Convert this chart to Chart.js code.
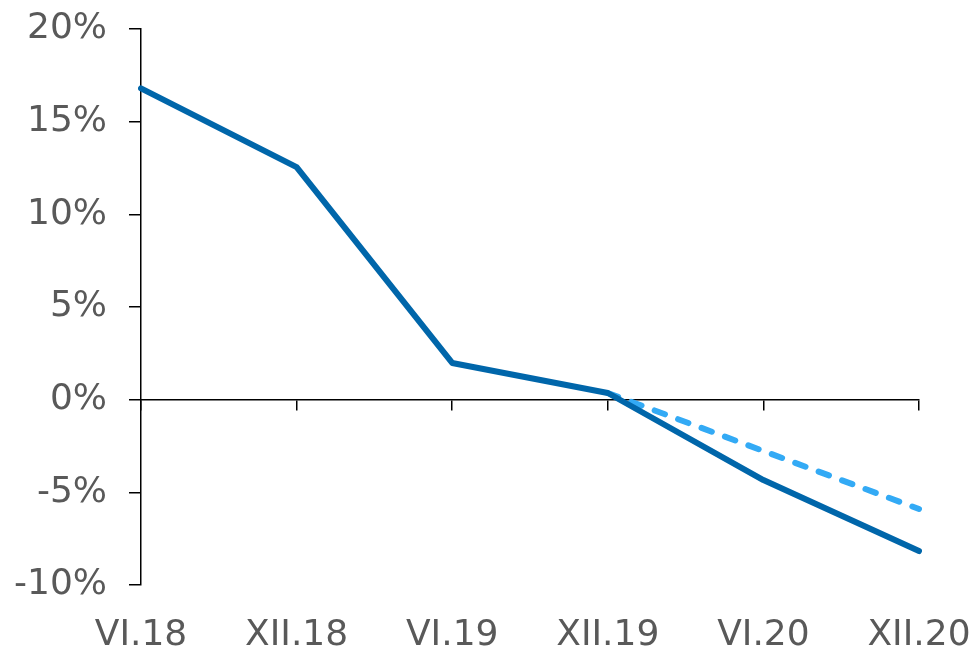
<!DOCTYPE html>
<html>
<head>
<meta charset="utf-8">
<script src="https://cdn.jsdelivr.net/npm/chart.js@4/dist/chart.umd.min.js"></script>
<style>
html,body{margin:0;padding:0;background:#fff;}
#wrap{width:976px;height:648px;position:relative;}
</style>
</head>
<body>
<div id="wrap"><canvas id="c" width="976" height="648"></canvas></div>
<script>
const categories = ['VI.18','XII.18','VI.19','XII.19','VI.20','XII.20'];
const actualValues = [16.8, 12.55, 1.98, 0.36, -4.34, -8.17];
const projectedValues = [null, null, null, 0.36, -2.77, -5.9];
const yTicks = [-10, -5, 0, 5, 10, 15, 20];

const FONT = {family: "'DejaVu Sans', Verdana, sans-serif", size: 36};
const TXT = '#595959';

new Chart(document.getElementById('c'), {
  type: 'line',
  data: {
    labels: categories,
    datasets: [
      {data: actualValues, borderColor: '#0066AA', borderWidth: 6, pointRadius: 0, tension: 0, borderCapStyle: 'round', borderJoinStyle: 'round', fill: false},
      {data: projectedValues, borderColor: '#33AAF5', borderWidth: 6, borderDash: [11, 14], borderCapStyle: 'round', pointRadius: 0, tension: 0, fill: false, spanGaps: false}
    ]
  },
  options: {
    responsive: false,
    animation: false,
    layout: {padding: {left: 0, right: 57, top: 29, bottom: 0}},
    plugins: {legend: {display: false}, tooltip: {enabled: false}},
    scales: {
      x: {
        type: 'category',
        position: 'bottom',
        offset: false,
        afterFit: (s) => { s.height = 63; s.paddingLeft = 0; s.paddingRight = 0; },
        grid: {display: false},
        border: {display: false},
        ticks: {color: TXT, font: FONT, padding: 21, maxRotation: 0, autoSkip: false}
      },
      x0: {
        type: 'category',
        labels: categories,
        position: {y: 0},
        offset: false,
        afterFit: (s) => { s.height = 0; s.paddingLeft = 0; s.paddingRight = 0; },
        grid: {drawOnChartArea: false, drawTicks: true, tickLength: 10, color: '#000', lineWidth: 1.5},
        border: {display: true, color: '#000', width: 1.5},
        ticks: {display: false}
      },
      y: {
        min: -10, max: 20,
        afterBuildTicks: (s) => { s.ticks = yTicks.map(v => ({value: v})); },
        afterFit: (s) => { s.width = 141; s.paddingTop = 0; s.paddingBottom = 0; },
        grid: {drawOnChartArea: false, drawTicks: true, tickLength: 12, color: '#000', lineWidth: 1.5},
        border: {display: true, color: '#000', width: 1.5},
        ticks: {color: TXT, font: FONT, padding: 22, callback: v => v + '%'}
      }
    }
  }
});
</script>
</body>
</html>
